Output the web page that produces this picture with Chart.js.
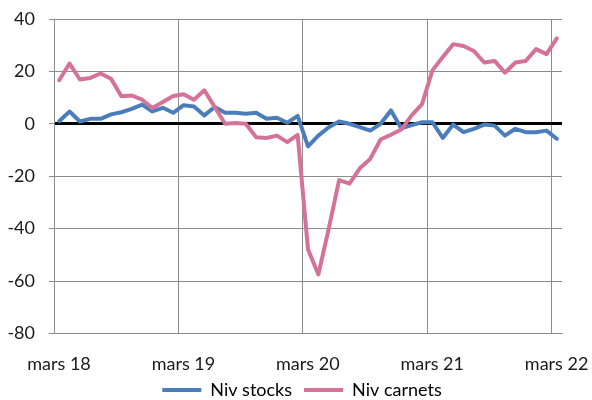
<!DOCTYPE html>
<html><head><meta charset="utf-8">
<script src="https://cdn.jsdelivr.net/npm/chart.js@4"></script>
<style>html,body{margin:0;padding:0;background:#fff}#wrap{width:592px;height:400px}</style>
</head><body><div id="wrap"><canvas id="c" width="592" height="400"></canvas></div>
<script>
const categories = [
  "mars 18","avr. 18","mai 18","juin 18","juil. 18","août 18","sept. 18","oct. 18","nov. 18","déc. 18","janv. 19","févr. 19",
  "mars 19","avr. 19","mai 19","juin 19","juil. 19","août 19","sept. 19","oct. 19","nov. 19","déc. 19","janv. 20","févr. 20",
  "mars 20","avr. 20","mai 20","juin 20","juil. 20","août 20","sept. 20","oct. 20","nov. 20","déc. 20","janv. 21","févr. 21",
  "mars 21","avr. 21","mai 21","juin 21","juil. 21","août 21","sept. 21","oct. 21","nov. 21","déc. 21","janv. 22","févr. 22",
  "mars 22"
];
const tickLabels = ["mars 18","mars 19","mars 20","mars 21","mars 22"];
const yTicks = [40,20,0,-20,-40,-60,-80];
const nivStocks = [1.0,4.7,0.9,1.9,1.9,3.6,4.4,5.7,7.3,4.7,6.1,4.2,7.1,6.6,3.2,6.4,4.2,4.2,3.8,4.2,1.9,2.3,0.4,3.0,
  -8.6,-4.5,-1.3,0.9,0.0,-1.3,-2.6,0.0,5.1,-1.7,-0.5,0.6,0.6,-5.4,-0.3,-3.2,-1.9,-0.3,-0.7,-4.5,-1.9,-3.2,-3.2,-2.6,-5.7];
const nivCarnets = [16.6,23.0,16.9,17.5,19.2,17.2,10.5,10.8,9.2,6.0,8.3,10.6,11.3,9.2,12.8,6.4,0.0,0.3,0.0,-5.1,-5.4,-4.5,-7.0,-4.2,
  -47.9,-57.5,-40.0,-21.5,-22.8,-17.0,-13.4,-6.0,-4.2,-2.2,3.2,7.5,20.4,25.5,30.4,29.7,27.8,23.4,24.0,19.5,23.4,24.0,28.5,26.6,32.6];

const tickIdx = tickLabels.map(l => categories.indexOf(l));
const toXY = arr => arr.map((v, i) => ({x: i, y: v}));
const GRID = '#8c8c8c';

Chart.defaults.font.family = 'Lato';
Chart.defaults.font.size = 18;
Chart.defaults.color = '#1a1a1a';

const legendShift = {
  id: 'legendShift',
  afterLayout(chart) {
    const lg = chart.legend;
    if (lg) { lg.left += 21; lg.right += 21; lg.top -= 6; lg.bottom -= 6; }
  }
};

new Chart(document.getElementById('c'), {
  type: 'line',
  plugins: [legendShift],
  data: {
    datasets: [
      {label: 'Niv stocks', data: toXY(nivStocks), borderColor: '#4a7ebb', backgroundColor: '#4a7ebb',
       borderWidth: 4, pointRadius: 0, tension: 0, order: 1, clip: false, borderJoinStyle: 'round', borderCapStyle: 'round'},
      {label: 'Niv carnets', data: toXY(nivCarnets), borderColor: '#d5729a', backgroundColor: '#d5729a',
       borderWidth: 4, pointRadius: 0, tension: 0, order: 0, clip: false, borderJoinStyle: 'round', borderCapStyle: 'round'}
    ]
  },
  options: {
    responsive: false,
    animation: false,
    layout: {padding: {top: 19, right: 30, left: 0, bottom: -15}},
    plugins: {
      tooltip: {enabled: false},
      legend: {
        position: 'bottom',
        labels: {
          boxWidth: 39, boxHeight: 4, padding: 12, color: '#1a1a1a',
          sort: (a, b) => a.datasetIndex - b.datasetIndex,
          generateLabels: chart => chart.data.datasets.map((d, i) => ({
            text: d.label, fillStyle: d.borderColor, strokeStyle: d.borderColor, lineWidth: 0, datasetIndex: i, hidden: false
          }))
        }
      }
    },
    scales: {
      x: {
        type: 'linear', min: -0.5, max: categories.length - 0.5,
        afterBuildTicks: s => { s.ticks = tickIdx.map(i => ({value: i - 0.5})); },
        ticks: {autoSkip: false, maxRotation: 0, padding: 0, labelOffset: 5,
          callback: (v, i) => tickLabels[i]},
        grid: {color: GRID, lineWidth: 1, drawTicks: true, tickLength: 20, tickColor: 'rgba(0,0,0,0)'},
        border: {color: GRID, width: 1}
      },
      y: {
        min: -80, max: 40,
        afterBuildTicks: s => { s.ticks = yTicks.map(v => ({value: v})); },
        afterFit: s => { s.width = 54; s.paddingTop = 0; s.paddingBottom = 0; },
        ticks: {padding: 14},
        grid: {
          color: c => (c.tick && c.tick.value === 0) ? '#000' : GRID,
          lineWidth: c => (c.tick && c.tick.value === 0) ? 3 : 1,
          tickColor: GRID, tickWidth: 1, tickLength: 5
        },
        border: {color: GRID, width: 1}
      }
    }
  }
});
</script>
</body></html>
